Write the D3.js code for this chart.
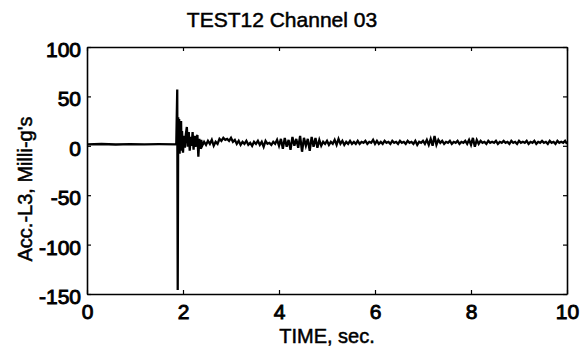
<!DOCTYPE html>
<html>
<head>
<meta charset="utf-8">
<script src="https://cdn.jsdelivr.net/npm/d3@7"></script>
<style>
  html, body { margin: 0; padding: 0; background: #fff; }
  svg { display: block; }
  text { font-family: "Liberation Sans", Arial, Helvetica, sans-serif; fill: #000; }
</style>
</head>
<body>
<svg id="chart" width="581" height="354"></svg>
<script>
// ---- data ----
const title = "TEST12 Channel 03";
const xLabel = "TIME, sec.";
const yLabel = "Acc.-L3, Milli-g's";
const xTicks = [0, 2, 4, 6, 8, 10];
const yTicks = [-150, -100, -50, 0, 50, 100];

// pre-impact baseline and impact spike (explicit times, sec)
const spikeTime = [0, 0.3, 0.6, 0.9, 1.2, 1.5, 1.86,
  1.88, 1.89, 1.90, 1.91, 1.92, 1.93, 1.94, 1.95, 1.96, 1.97, 1.98,
  2.00, 2.02, 2.04, 2.06, 2.08, 2.10, 2.12, 2.14, 2.16, 2.18, 2.20,
  2.22, 2.24, 2.26, 2.28, 2.30, 2.32, 2.34, 2.36, 2.38, 2.40];
const spikeAccel = [1.5, 1.8, 1.3, 1.7, 1.4, 1.6, 1.5,
  57, -146, 29, -6, 27, -8, 22, -3, 25, -5, 15,
  -7, 10, -2, 12, 19, -1, 14, -5, 9, 0, 14,
  -4, 10, -1, 8, 11, -11, 7, -3, 6, 0];

// ringing tail, sampled every 0.04 s from 2.44 s to 10 s
const tailStart = 2.44;
const tailStep = 0.04;
const tailAccel = [
  4, 1, 5, 2, 6, 0, 4, 2, 7, 5,
  8, 6, 7, 5, 8, 4, 6, 2, 5, 1,
  4, 2, 5, 1, 3, 0, 4, 2, 5, 1,
  4, -1, 5, 2, 3, 1, 4, 2, 6, 0,
  7, -3, 8, -1, 6, -4, 9, 0, 7, -2,
  10, -6, 8, 0, 7, -5, 9, -1, 8, -2,
  6, 0, 4, 2, 5, 1, 4, 2, 6, 1,
  7, 2, 5, 1, 4, 2, 5, 2, 4, 2,
  5, 2, 4, 3, 5, 2, 4, 3, 6, 2,
  5, 2, 4, 2, 5, 3, 4, 2, 5, 3,
  4, 2, 5, 3, 4, 2, 5, 3, 4, 2,
  5, 1, 4, 3, 5, 2, 6, 1, 7, 0,
  10, 1, 6, 3, 5, 2, 4, 3, 5, 2,
  4, 3, 5, 2, 4, 3, 5, 2, 6, 1,
  8, -1, 6, 2, 5, 3, 4, 2, 5, 3,
  4, 3, 5, 2, 4, 3, 5, 3, 4, 2,
  5, 3, 4, 2, 5, 3, 4, 3, 5, 2,
  4, 3, 5, 2, 4, 3, 5, 3, 4, 2,
  5, 3, 4, 2, 5, 3, 4, 3, 5, 2
];

// ---- build series ----
const series = spikeTime.map((t, i) => ({ t, v: spikeAccel[i] }))
  .concat(tailAccel.map((v, i) => ({ t: tailStart + i * tailStep, v })));

// ---- layout ----
const svg = d3.select("#chart");
const L = 87, R = 567, T = 47, B = 294;
const x = d3.scaleLinear().domain([0, 10]).range([L, R]);
const y = d3.scaleLinear().domain([-150, 100]).range([B, T]);

const tickFont = 21;
const labelFont = 20;
const fmt = d => String(d); // plain hyphen-minus like the reference

// data line
svg.append("path")
  .datum(series)
  .attr("fill", "none")
  .attr("stroke", "#000")
  .attr("stroke-width", 2.3)
  .attr("stroke-linejoin", "miter")
  .attr("d", d3.line().x(d => x(d.t)).y(d => y(d.v)));

// axes (ticks inward, box)
function styleAxis(g, showLabels) {
  g.select(".domain").attr("stroke", "#000").attr("stroke-width", 1.6);
  g.selectAll(".tick line").attr("stroke", "#000").attr("stroke-width", 1.2);
  g.selectAll(".tick text")
    .attr("font-size", tickFont)
    .attr("font-family", "Liberation Sans, Arial, sans-serif")
    .attr("fill", "#000")
    .attr("stroke", "#000").attr("stroke-width", 0.9)
    .style("display", showLabels ? null : "none");
}

svg.append("g").attr("transform", `translate(0,${B})`)
  .call(d3.axisBottom(x).tickValues(xTicks).tickSize(-4).tickFormat(fmt).tickSizeOuter(0))
  .call(g => styleAxis(g, true))
  .call(g => g.selectAll(".tick text").attr("dy", "0.71em").attr("y", 10));

svg.append("g").attr("transform", `translate(0,${T})`)
  .call(d3.axisTop(x).tickValues(xTicks).tickSize(-4).tickSizeOuter(0))
  .call(g => styleAxis(g, false));

svg.append("g").attr("transform", `translate(${L},0)`)
  .call(d3.axisLeft(y).tickValues(yTicks).tickSize(-4).tickFormat(fmt).tickSizeOuter(0))
  .call(g => styleAxis(g, true))
  .call(g => g.selectAll(".tick text").attr("x", -6).attr("dy", "0.45em"));

svg.append("g").attr("transform", `translate(${R},0)`)
  .call(d3.axisRight(y).tickValues(yTicks).tickSize(-4).tickSizeOuter(0))
  .call(g => styleAxis(g, false));

// title
svg.append("text")
  .attr("x", 282).attr("y", 27)
  .attr("text-anchor", "middle")
  .attr("font-size", 21)
  .attr("stroke", "#000").attr("stroke-width", 0.5)
  .text(title);

// x label
svg.append("text")
  .attr("x", 327).attr("y", 343)
  .attr("text-anchor", "middle")
  .attr("font-size", labelFont)
  .attr("stroke", "#000").attr("stroke-width", 0.5)
  .text(xLabel);

// y label
svg.append("text")
  .attr("transform", "translate(32,189) rotate(-90)")
  .attr("text-anchor", "middle")
  .attr("font-size", labelFont)
  .attr("stroke", "#000").attr("stroke-width", 0.5)
  .text(yLabel);
</script>
</body>
</html>
